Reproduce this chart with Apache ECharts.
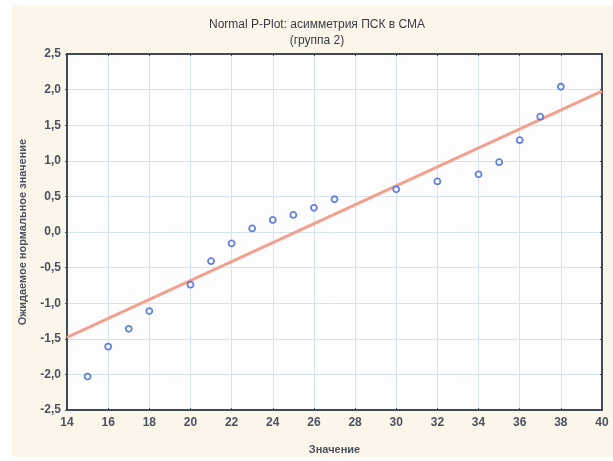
<!DOCTYPE html>
<html>
<head>
<meta charset="utf-8">
<script src="https://cdn.jsdelivr.net/npm/echarts@6/dist/echarts.min.js"></script>
<style>
html,body{margin:0;padding:0;background:#ffffff;}
#chart{width:613px;height:461px;}
</style>
</head>
<body>
<div id="chart"></div>
<script>
var xValues = [15, 16, 17, 18, 20, 21, 22, 23, 24, 25, 26, 27, 30, 32, 34, 35, 36, 37, 38];
var yValues = [-2.03, -1.61, -1.36, -1.11, -0.74, -0.41, -0.16, 0.05, 0.17, 0.24, 0.34, 0.46, 0.60, 0.71, 0.81, 0.98, 1.29, 1.62, 2.04];
var lineX = [14, 40];
var lineY = [-1.48, 1.98];
var titleText = 'Normal P-Plot: асимметрия ПСК в СМА\n(группа 2)';
var xName = 'Значение';
var yName = 'Ожидаемое нормальное значение';

var points = xValues.map(function (x, i) { return [x, yValues[i]]; });
var linePts = lineX.map(function (x, i) { return [x, lineY[i]]; });

var labelStyle = { fontFamily: 'Liberation Sans, Arial, sans-serif', fontSize: 12, fontWeight: 'bold', color: '#4a5260' };
var frameColor = '#3e4c58';
var gridColor = '#d6e3ec';

var chart = echarts.init(document.getElementById('chart'), null, { renderer: 'canvas' });
chart.setOption({
  animation: false,
  backgroundColor: '#ffffff',
  graphic: [{
    type: 'rect', left: 12, top: 5, z: -10,
    shape: { width: 601, height: 452 },
    style: { fill: '#fcf6ea' }
  }],
  title: {
    text: titleText,
    left: 312, top: 12, textAlign: 'center',
    textStyle: { fontFamily: 'Liberation Sans, Arial, sans-serif', fontSize: 12, fontWeight: 'normal', color: '#3a3a44', lineHeight: 16 }
  },
  grid: {
    left: 67, right: 11, top: 54, bottom: 51,
    show: true, backgroundColor: '#fdfdfe', borderColor: frameColor, borderWidth: 2
  },
  xAxis: [{
    type: 'value', min: 14, max: 40, interval: 2,
    name: xName, nameLocation: 'middle', nameGap: 34,
    nameTextStyle: { fontFamily: 'Liberation Sans, Arial, sans-serif', fontSize: 11, fontWeight: 'bold', color: '#4a5260' },
    axisLine: { show: true, onZero: false, lineStyle: { color: frameColor, width: 2 } },
    axisTick: { show: true, inside: true, length: 2, lineStyle: { color: frameColor } },
    axisLabel: Object.assign({ margin: 7 }, labelStyle),
    splitLine: { show: true, lineStyle: { color: gridColor, width: 1 } }
  }, {
    type: 'value', min: 14, max: 40, interval: 2, position: 'top',
    axisLine: { show: true, onZero: false, lineStyle: { color: frameColor, width: 2 } },
    axisTick: { show: true, inside: true, length: 2, lineStyle: { color: frameColor } },
    axisLabel: { show: false }, splitLine: { show: false }
  }],
  yAxis: [{
    type: 'value', min: -2.5, max: 2.5, interval: 0.5,
    name: yName, nameLocation: 'middle', nameGap: 39, nameRotate: 90,
    nameTextStyle: { fontFamily: 'Liberation Sans, Arial, sans-serif', fontSize: 11, fontWeight: 'bold', color: '#4a5260' },
    axisLine: { show: true, onZero: false, lineStyle: { color: frameColor, width: 2 } },
    axisTick: { show: true, inside: false, length: 2, lineStyle: { color: frameColor } },
    axisLabel: Object.assign({
      margin: 6,
      formatter: function (v) { return v.toFixed(1).replace('.', ','); }
    }, labelStyle),
    splitLine: { show: true, lineStyle: { color: gridColor, width: 1 } }
  }, {
    type: 'value', min: -2.5, max: 2.5, interval: 0.5, position: 'right',
    axisLine: { show: true, onZero: false, lineStyle: { color: frameColor, width: 2 } },
    axisTick: { show: true, inside: true, length: 2, lineStyle: { color: frameColor } },
    axisLabel: { show: false }, splitLine: { show: false }
  }],
  series: [{
    type: 'line',
    data: linePts,
    symbol: 'none',
    lineStyle: { color: '#f3a08e', width: 3 },
    z: 2
  }, {
    type: 'scatter',
    data: points,
    symbol: 'circle',
    symbolSize: 6,
    itemStyle: { color: '#fdfdfe', borderColor: '#3f63d6', borderWidth: 1.8 },
    z: 3
  }]
});
</script>
</body>
</html>
